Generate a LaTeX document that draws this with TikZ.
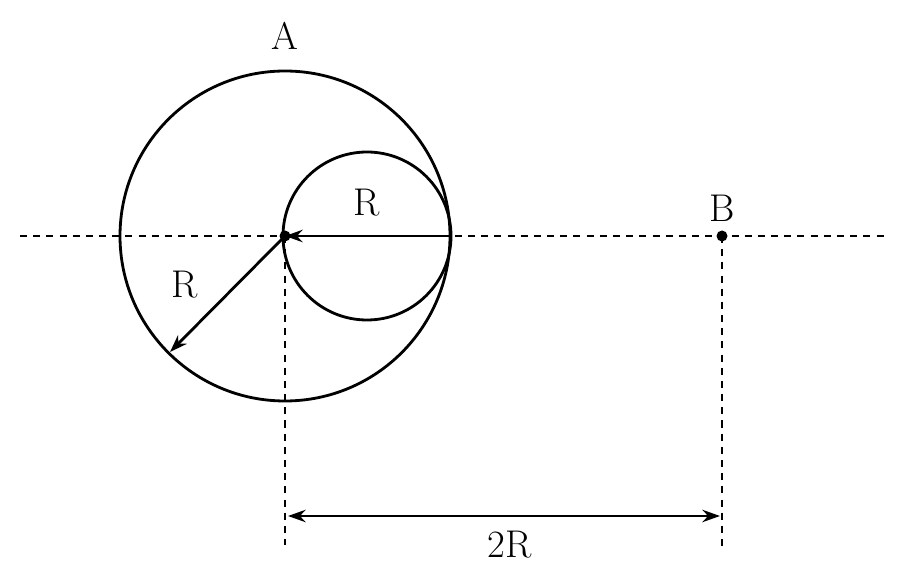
\documentclass[tikz,border=0pt]{standalone}
\usetikzlibrary{arrows.meta}
\begin{document}
\begin{tikzpicture}[x=0.02cm,y=-0.02cm,
  line/.style={line width=1.6pt},
  dashline/.style={line width=1.2pt,dash pattern=on 4pt off 3.5pt},
  arr/.style={line width=1.6pt,-{Stealth[length=10pt,width=7pt]}},
  lbl/.style={font=\fontsize{22}{24}\selectfont}]
\useasboundingbox (0,0) rectangle (900,574);
\coordinate (O) at (285,236);
\coordinate (B) at (722,236);
\coordinate (L) at (20,236);
\coordinate (Rr) at (885,236);
\coordinate (Ob) at (285,545);
\coordinate (Bb) at (722,550);
\coordinate (T) at (450,236);
\coordinate (P) at (170,352);
\coordinate (D1) at (288,516);
\coordinate (D2) at (720,516);
\draw[dashline] (L) -- (Rr);
\draw[dashline] (O) -- (Ob);
\draw[dashline] (B) -- (Bb);
\draw[line] (O) circle (165);
\draw[line] (367,236) circle (84);
\draw[arr] (T) -- (O);
\draw[arr] (O) -- (P);
\draw[line,{Stealth[length=10pt,width=7pt]}-{Stealth[length=10pt,width=7pt]}] (D1) -- (D2);
\fill (O) circle (5.5);
\fill (B) circle (5.5);
\node[lbl] (a) at (285,36) {A};
\node[lbl] (b) at (722,208) {B};
\node[lbl] (r1) at (367,203) {R};
\node[lbl] (r2) at (185,285) {R};
\node[lbl] (d) at (510,545) {2R};
\end{tikzpicture}
\end{document}
